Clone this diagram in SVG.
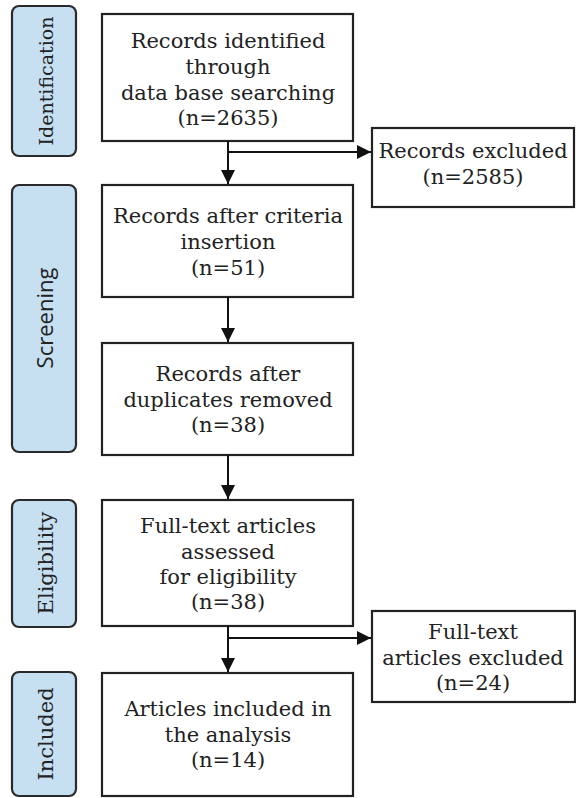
<svg xmlns="http://www.w3.org/2000/svg" width="576" height="798" viewBox="0 0 576 798">
<defs>
<marker id="ah" viewBox="0 0 10 10" refX="10" refY="5" markerWidth="14" markerHeight="14" markerUnits="userSpaceOnUse" orient="auto">
<path d="M0,0 L10,5 L0,10 z" fill="#111"/>
</marker>
<style>
.phase rect{fill:#c6e0f2;stroke:#2a2a2a;stroke-width:2.2}
.phase text{font-family:"DejaVu Serif","Liberation Serif",serif;font-size:21px;fill:#222;text-anchor:middle}
.box rect{fill:#fff;stroke:#222;stroke-width:2.2}
.box text{font-family:"DejaVu Serif","Liberation Serif",serif;font-size:21px;fill:#222;text-anchor:middle}
.conn path{fill:none;stroke:#111;stroke-width:2}
</style>
</defs>
<rect width="576" height="798" fill="#fff"/>
<g id="phase-identification" class="phase"><rect x="12" y="6" width="64" height="150" rx="7"/><text transform="translate(53,81) rotate(-90)" style="font-size:19px">Identification</text></g>
<g id="phase-screening" class="phase"><rect x="12" y="185" width="64" height="267" rx="7"/><text transform="translate(53,318) rotate(-90)" style="font-family:'Open Sans','DejaVu Sans',sans-serif;font-size:22px">Screening</text></g>
<g id="phase-eligibility" class="phase"><rect x="12" y="500" width="64" height="127" rx="7"/><text transform="translate(53,563) rotate(-90)">Eligibility</text></g>
<g id="phase-included" class="phase"><rect x="12" y="672" width="64" height="124" rx="7"/><text transform="translate(53,734) rotate(-90)">Included</text></g>

<g id="box1" class="box"><rect x="102" y="14" width="251" height="127"/>
<text x="228" y="48">Records identified</text><text x="228" y="74">through</text><text x="228" y="100">data base searching</text><text x="228" y="125">(n=2635)</text></g>
<g id="excl1" class="box"><rect x="372" y="128" width="202" height="79"/>
<text x="473" y="158">Records excluded</text><text x="473" y="184">(n=2585)</text></g>
<g id="box2" class="box"><rect x="102" y="185" width="251" height="112"/>
<text x="228" y="223">Records after criteria</text><text x="228" y="249">insertion</text><text x="228" y="275">(n=51)</text></g>
<g id="box3" class="box"><rect x="102" y="343" width="251" height="112"/>
<text x="228" y="381">Records after</text><text x="228" y="407">duplicates removed</text><text x="228" y="432">(n=38)</text></g>
<g id="box4" class="box"><rect x="102" y="500" width="251" height="126"/>
<text x="228" y="533">Full-text articles</text><text x="228" y="559">assessed</text><text x="228" y="584">for eligibility</text><text x="228" y="609">(n=38)</text></g>
<g id="excl2" class="box"><rect x="372" y="611" width="203" height="91"/>
<text x="473" y="639">Full-text</text><text x="473" y="665">articles excluded</text><text x="473" y="690">(n=24)</text></g>
<g id="box5" class="box"><rect x="102" y="673" width="251" height="123"/>
<text x="228" y="716">Articles included in</text><text x="228" y="742">the analysis</text><text x="228" y="767">(n=14)</text></g>

<g id="connectors" class="conn">
<path d="M228,141 V184" marker-end="url(#ah)"/>
<path d="M228,152 H371" marker-end="url(#ah)"/>
<path d="M228,297 V342" marker-end="url(#ah)"/>
<path d="M228,455 V499" marker-end="url(#ah)"/>
<path d="M228,626 V672" marker-end="url(#ah)"/>
<path d="M228,638 H371" marker-end="url(#ah)"/>
</g>
</svg>
